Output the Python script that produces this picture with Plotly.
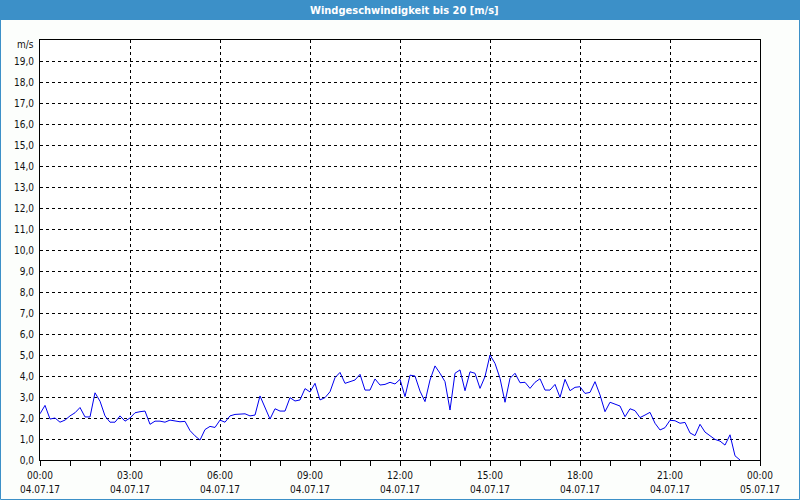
import pandas as pd
import plotly.graph_objects as go

# ---- data ----
start_time = "2017-07-04 00:00"
interval = "10min"
wind_speed = [
    2.2, 2.6, 1.95, 2.0, 1.8, 1.9, 2.1, 2.25, 2.5, 2.05,
    2.05, 3.2, 2.8, 2.1, 1.8, 1.8, 2.1, 1.85, 2.0, 2.25,
    2.3, 2.33, 1.7, 1.85, 1.85, 1.8, 1.9, 1.85, 1.82, 1.84,
    1.4, 1.15, 0.95, 1.45, 1.6, 1.55, 1.9, 1.8, 2.1, 2.17,
    2.2, 2.2, 2.1, 2.14, 3.05, 2.5, 1.95, 2.44, 2.33, 2.33,
    2.97, 2.81, 2.86, 3.4, 3.24, 3.65, 2.86, 2.97, 3.25, 3.92,
    4.17, 3.65, 3.73, 3.81, 4.08, 3.33, 3.33, 3.86, 3.57, 3.6,
    3.7, 3.62, 3.84, 3.02, 4.04, 4.0, 3.28, 2.78, 3.81, 4.48,
    4.13, 3.73, 2.38, 4.13, 4.29, 3.3, 4.2, 4.13, 3.41, 3.97,
    5.0, 4.6, 3.89, 2.75, 3.89, 4.13, 3.68, 3.7, 3.41, 3.7,
    3.87, 3.33, 3.33, 3.6, 2.98, 3.84, 3.3, 3.46, 3.49, 3.17,
    3.22, 3.73, 3.1, 2.3, 2.75, 2.67, 2.57, 2.06, 2.44, 2.35,
    2.02, 2.14, 2.27, 1.75, 1.43, 1.54, 1.89, 1.87, 1.75, 1.79,
    1.29, 1.16, 1.7, 1.33, 1.17, 0.98, 0.9, 0.71, 1.2, 0.2,
    0.0,
]
tick_times = ["2017-07-04 00:00", "2017-07-04 03:00", "2017-07-04 06:00",
              "2017-07-04 09:00", "2017-07-04 12:00", "2017-07-04 15:00",
              "2017-07-04 18:00", "2017-07-04 21:00", "2017-07-05 00:00"]
tick_hours = ["00:00", "03:00", "06:00", "09:00", "12:00", "15:00",
              "18:00", "21:00", "00:00"]
tick_dates = ["04.07.17"] * 8 + ["05.07.17"]
y_ticks = list(range(0, 20))
title_text = "Windgeschwindigkeit bis 20 [m/s]"
unit_text = "m/s"

times = pd.date_range(start_time, periods=len(wind_speed), freq=interval)

# ---- styling ----
W, H = 800, 500
ML, MR, MT, MB = 40, 40, 40, 40
PW, PH = W - ML - MR, H - MT - MB
BAR = "#3c90c8"
BG = "#fcfefc"
FONT = "Tahoma, 'DejaVu Sans Condensed', 'Liberation Sans', Arial, sans-serif"


def px_x(x):
    return (x - ML) / PW


def px_y(y):
    return (H - MB - y) / PH


fig = go.Figure()
fig.add_trace(go.Scatter(x=times, y=wind_speed, mode="lines",
                         line=dict(color="#0000f0", width=1),
                         hoverinfo="skip", showlegend=False))
# invisible helper trace for the date label axis
fig.add_trace(go.Scatter(x=times, y=wind_speed, xaxis="x2", mode="lines",
                         line=dict(width=0), opacity=0, hoverinfo="skip",
                         showlegend=False))

xrange = [tick_times[0], tick_times[-1]]
fig.update_layout(
    width=W, height=H,
    margin=dict(l=ML, r=MR, t=MT, b=MB, autoexpand=False),
    paper_bgcolor=BG, plot_bgcolor="#ffffff",
    separators=",.",
    font=dict(family=FONT, size=10, color="#111111"),
    xaxis=dict(
        type="date", range=xrange, automargin=False,
        tickmode="array", tickvals=tick_times, ticktext=tick_hours,
        ticks="outside", ticklen=5, tickcolor="black", tickwidth=1,
        showgrid=True, gridcolor="black", gridwidth=1, griddash="3px,3px",
        showline=True, linecolor="black", linewidth=1, mirror=True,
        zeroline=False, ticklabelstandoff=1,
        minor=dict(dtick=3600000, ticks="outside", ticklen=5,
                   tickcolor="black", showgrid=False),
    ),
    xaxis2=dict(
        type="date", range=xrange, overlaying="x", anchor="y", side="bottom",
        automargin=False,
        tickmode="array", tickvals=tick_times, ticktext=tick_dates,
        ticks="", showgrid=False, showline=False, zeroline=False,
        ticklabelstandoff=22,
    ),
    yaxis=dict(
        range=[0, 20], tickmode="array", tickvals=y_ticks, tickformat=".1f",
        automargin=False,
        ticks="", showgrid=True, gridcolor="black", gridwidth=1,
        griddash="3px,3px",
        showline=True, linecolor="black", linewidth=1, mirror=True,
        zeroline=False, ticklabelstandoff=3,
    ),
    shapes=[
        dict(type="rect", xref="paper", yref="paper", layer="above",
             x0=px_x(0), x1=px_x(W), y0=px_y(20), y1=px_y(0),
             fillcolor=BAR, line=dict(width=0)),
        dict(type="rect", xref="paper", yref="paper", layer="above",
             x0=px_x(0.5), x1=px_x(W - 0.5), y0=px_y(H - 0.5), y1=px_y(0.5),
             fillcolor="rgba(0,0,0,0)", line=dict(color=BAR, width=1)),
    ],
    annotations=[
        dict(text=title_text, xref="paper", yref="paper",
             x=px_x(404), y=px_y(10), xanchor="center", yanchor="middle",
             showarrow=False,
             font=dict(family=FONT, size=11, color="white", weight="bold")),
        dict(text=unit_text, xref="paper", yref="y", x=0, y=20,
             xanchor="right", yanchor="middle", xshift=-4, yshift=-4,
             showarrow=False, font=dict(family=FONT, size=10, color="#111111")),
    ],
)

fig.write_html("out.html")
